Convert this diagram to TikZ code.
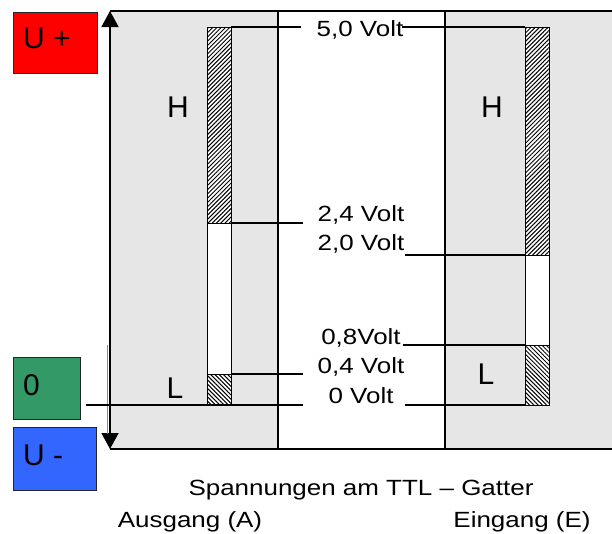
\documentclass[tikz,border=0pt]{standalone}
\usepackage{fontspec}
\setmainfont{Liberation Sans}
\newfontfamily\widefont[FakeStretch=1.18]{Liberation Sans}
\usetikzlibrary{arrows.meta,patterns.meta}

\begin{document}
\begin{tikzpicture}[x=1pt,y=-1pt,
    volt/.style={font=\widefont\fontsize{22}{26}\selectfont, anchor=base, inner sep=0pt},
    big/.style={font=\fontsize{30}{36}\selectfont, anchor=base, inner sep=0pt},
    level/.style={line width=1.3pt},
    frame/.style={line width=1.6pt},
    bar/.style={draw, line width=0.8pt},
    hatchup/.style={bar, preaction={fill=white}, pattern={Lines[angle=45,distance=3pt,line width=1pt]}},
    hatchdown/.style={bar, preaction={fill=white}, pattern={Lines[angle=-45,distance=3pt,line width=1pt]}},
    colbox/.style={draw=black!85, line width=1pt}]

    % Define colors
    \definecolor{panel}{RGB}{230,230,230}   % light gray background
    \definecolor{plusred}{RGB}{255,0,0}
    \definecolor{zerogreen}{RGB}{51,153,102}
    \definecolor{minusblue}{RGB}{51,102,255}

    \useasboundingbox (0,0) rectangle (612,533);

    % Draw the two gray panels
    \fill[panel] (110,11) rectangle (278,449);
    \fill[panel] (445,11) rectangle (612,449);

    % Frame lines
    \draw[frame] (110,11) -- (612,11);
    \draw[frame] (110,449) -- (612,449);
    \draw[frame] (278,11) -- (278,449);
    \draw[frame] (445,11) -- (445,449);

    % Voltage axis
    \coordinate (axtop) at (110,11);
    \coordinate (axbot) at (110,449);
    \draw[frame, {Triangle[width=17pt,length=16pt]}-{Triangle[width=17pt,length=16pt]}] (axbot) -- (axtop);
    \draw[black!45, line width=0.6pt] (107,345) -- (107,434);

    % Bar of the output (A)
    \draw[hatchup] (207,27) rectangle (231,223);
    \draw[bar, fill=white] (207,223) rectangle (231,374);
    \draw[hatchdown] (207,374) rectangle (231,405);

    % Bar of the input (E)
    \draw[hatchup] (525,27) rectangle (549,255);
    \draw[bar, fill=white] (525,255) rectangle (549,345);
    \draw[hatchdown] (525,345) rectangle (549,405);

    % Level points, left side
    \coordinate (A50) at (231,27);   \coordinate (A50e) at (301,27);
    \coordinate (A24) at (231,223);  \coordinate (A24e) at (303,223);
    \coordinate (A04) at (231,374);  \coordinate (A04e) at (303,374);
    \coordinate (A00) at (86,405);   \coordinate (A00e) at (303,405);

    % Level points, right side
    \coordinate (E50) at (525,27);   \coordinate (E50s) at (402,27);
    \coordinate (E20) at (525,255);  \coordinate (E20s) at (405,255);
    \coordinate (E08) at (525,345);  \coordinate (E08s) at (403,345);
    \coordinate (E00) at (525,405);  \coordinate (E00s) at (405,405);

    % Draw level lines
    \draw[level] (A50) -- (A50e);
    \draw[level] (A24) -- (A24e);
    \draw[level] (A04) -- (A04e);
    \draw[level] (A00) -- (A00e);
    \draw[level] (E50s) -- (E50);
    \draw[level] (E20s) -- (E20);
    \draw[level] (E08s) -- (E08);
    \draw[level] (E00s) -- (E00);

    % Add voltage labels
    \node[volt] (v50) at (360,36) {5,0 Volt};
    \node[volt] (v24) at (361,221) {2,4 Volt};
    \node[volt] (v20) at (361,250) {2,0 Volt};
    \node[volt] (v08) at (361,344) {0,8Volt};
    \node[volt] (v04) at (361,373) {0,4 Volt};
    \node[volt] (v00) at (361,403) {0 Volt};

    % Add level letters
    \node[big] (hA) at (178,117) {H};
    \node[big] (hE) at (492,117) {H};
    \node[big] (lA) at (175,398) {L};
    \node[big] (lE) at (486,384) {L};

    % Supply boxes
    \draw[colbox, fill=plusred] (13,12) rectangle (97,73);
    \node[big, anchor=base west] (uplus) at (23,48) {U +};
    \draw[colbox, fill=zerogreen] (13,357) rectangle (80,419);
    \node[big, anchor=base west] (uzero) at (23,395) {0};
    \draw[colbox, fill=minusblue] (13,427) rectangle (96,490);
    \node[big, anchor=base west] (uminus) at (23,465) {U -};

    % Add captions
    \node[volt] (title) at (361,495) {Spannungen am TTL – Gatter};
    \node[volt] (outA) at (190,527) {Ausgang (A)};
    \node[volt] (inE) at (522,527) {Eingang (E)};

\end{tikzpicture}
\end{document}
